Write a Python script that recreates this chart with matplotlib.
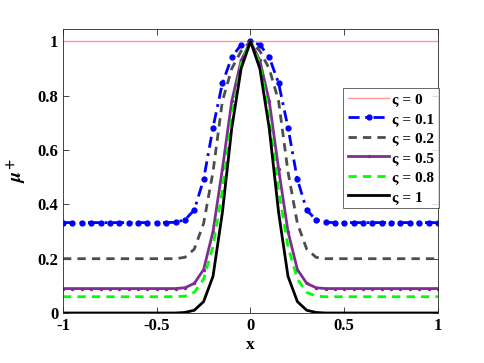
import numpy as np
import matplotlib
matplotlib.use("Agg")
import matplotlib.pyplot as plt

x = np.linspace(-1, 1, 41)

# right half values for x = 0, 0.05, ..., 1 (curves are symmetric)
half_s01 = [1.0, 0.988, 0.942, 0.846, 0.683, 0.492, 0.379, 0.343, 0.334] + [0.333] * 12
half_s02 = [1.0, 0.965, 0.90, 0.78, 0.52, 0.33, 0.235, 0.205, 0.2] + [0.2] * 12
half_s05 = [1.0, 0.93, 0.78, 0.53, 0.30, 0.16, 0.109, 0.093, 0.09] + [0.09] * 12
half_s08 = [1.0, 0.92, 0.72, 0.45, 0.245, 0.125, 0.076, 0.062, 0.06] + [0.06] * 12
half_s1 = [1.0, 0.90, 0.68, 0.37, 0.135, 0.042, 0.01, 0.002, 0.0] + [0.0] * 12
half_s0 = [1.0] * 21

def mirror(h):
    return np.array(h[:0:-1] + h)

series = {
    'ς = 0': mirror(half_s0),
    'ς = 0.1': mirror(half_s01),
    'ς = 0.2': mirror(half_s02),
    'ς = 0.5': mirror(half_s05),
    'ς = 0.8': mirror(half_s08),
    'ς = 1': mirror(half_s1),
}

styles = {
    'ς = 0': dict(color='#ff9999', lw=1.0, ls='-'),
    'ς = 0.1': dict(color='#0000ff', lw=2.0, ls=(0, (4, 2, 1, 2)), marker='o', ms=3.5),
    'ς = 0.2': dict(color='#4d4d4d', lw=2.0, ls=(0, (3, 2.2))),
    'ς = 0.5': dict(color='#7e2f8e', lw=2.0, ls='-', marker='.', ms=3),
    'ς = 0.8': dict(color='#00ff00', lw=2.0, ls=(0, (3, 2.2))),
    'ς = 1': dict(color='#000000', lw=2.0, ls='-'),
}

plt.rcParams['font.family'] = ['Liberation Serif', 'DejaVu Serif']
plt.rcParams['font.weight'] = 'bold'
plt.rcParams['mathtext.fontset'] = 'stix'

fig = plt.figure(figsize=(4.85, 3.63), dpi=100)
ax = fig.add_axes([63 / 485, 50 / 363, 375 / 485, 284 / 363])

for name, ys in series.items():
    ax.plot(x, ys, label=name, **styles[name])

ax.set_xlim(-1, 1)
ax.set_ylim(0, 1.046)
ax.set_xticks([-1, -0.5, 0, 0.5, 1])
ax.set_xticklabels(['-1', '-0.5', '0', '0.5', '1'])
ax.set_yticks([0, 0.2, 0.4, 0.6, 0.8, 1])
ax.set_yticklabels(['0', '0.2', '0.4', '0.6', '0.8', '1'])
ax.tick_params(direction='in', length=4, width=0.6, labelsize=12,
               top=True, right=True, colors='#262626', labelcolor='black')
for sp in ax.spines.values():
    sp.set_linewidth(0.6)
    sp.set_color('#262626')

ax.set_xlabel('x', fontsize=12.5, fontweight='bold', labelpad=2)
ax.set_ylabel(r'$\mu^{+}$', fontsize=14, labelpad=6)

leg = ax.legend(loc='upper right', bbox_to_anchor=(439 / 485, 1 - 88 / 363),
                bbox_transform=fig.transFigure, fontsize=11, frameon=True,
                fancybox=False, edgecolor='#262626', handlelength=2.7,
                handletextpad=0.2, borderpad=0.3, labelspacing=0.38,
                borderaxespad=0)
leg.get_frame().set_linewidth(0.6)

fig.savefig('out.png', dpi=100)
